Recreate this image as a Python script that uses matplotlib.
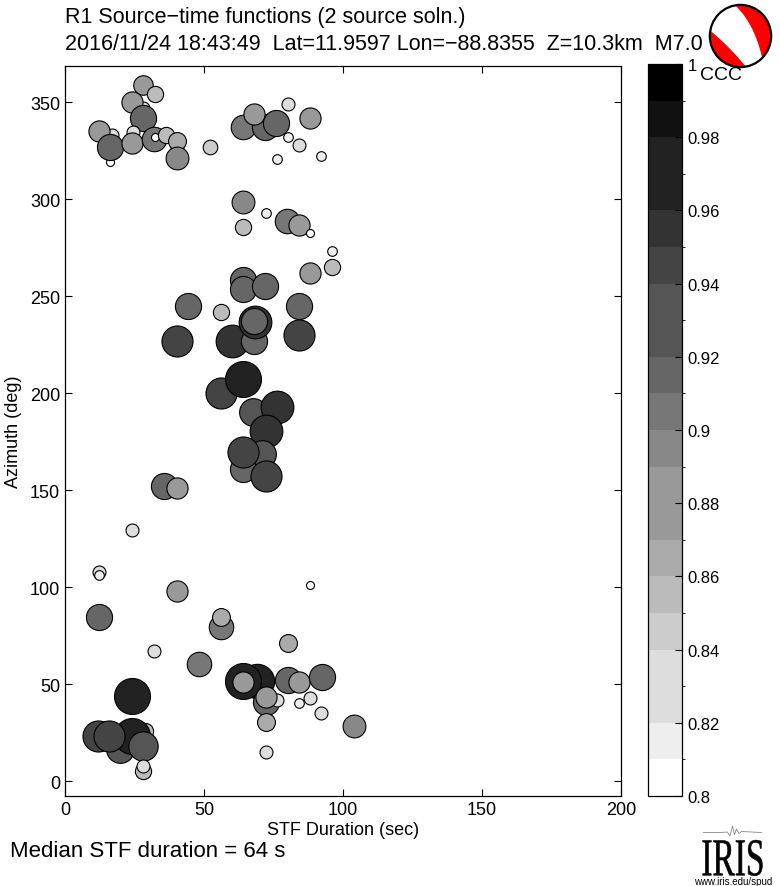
import numpy as np
import matplotlib
matplotlib.use('Agg')
import matplotlib.pyplot as plt
from matplotlib.colors import ListedColormap, BoundaryNorm
from matplotlib.cm import ScalarMappable
from matplotlib.textpath import TextPath
from matplotlib.patches import PathPatch, Ellipse, Polygon
from matplotlib.font_manager import FontProperties
import matplotlib.transforms as mtransforms

# ---------------- data ----------------
duration = [28, 32.4, 28, 24, 28, 17, 24.5, 12.2, 16.2, 16.2, 24, 32, 32.4, 36.3, 40.3, 40.3, 40.3, 52,
            80.2, 64, 72, 68, 76, 88, 80.2, 84, 76.3, 92,
            64, 72.3, 64, 80, 84, 88, 96, 96, 88, 64, 64, 72, 44.2, 56, 84, 60, 68, 68.4, 68, 40.3, 84,
            56, 64, 67.6, 76.3, 72.3, 71, 64, 64, 72.3, 35.6, 40.3,
            24, 12.2, 12.2, 88, 40.3, 12.2, 56, 56, 32, 80.2, 48.2,
            24, 28.8, 11.9, 19.8, 24, 15.8, 28, 28, 28,
            69, 64, 64, 72.3, 76.3, 72.3, 80.2, 84, 92.4, 84, 88, 92, 72.3, 104, 72.3]
azimuth = [359, 354, 347, 350, 342, 333, 334.5, 335, 319, 327, 329, 331, 332, 333, 326, 330, 321, 327,
           349, 337, 337, 344, 339, 342, 332, 328, 320.6, 322,
           298.5, 293, 285.6, 288.7, 286.6, 282.5, 273, 265, 262, 258.3, 253.6, 255, 245, 241.7, 245,
           227, 226.8, 236.6, 237, 226.8, 230,
           200, 207, 190, 192.8, 180.4, 168.6, 160.8, 169.6, 157, 152, 151,
           129.4, 107.7, 106, 101, 98, 84.5, 79.4, 84.5, 67, 71, 60.3,
           43.8, 25.8, 23, 16.5, 23, 23, 18, 5, 8,
           51.5, 51.5, 51, 40.7, 41.7, 43.3, 52, 51, 53.6, 40.2, 42.8, 35, 30.4, 28.4, 15]
ccc = [0.875, 0.855, 0.835, 0.885, 0.915, 0.835, 0.835, 0.885, 0.805, 0.915, 0.885, 0.905, 0.805, 0.855,
       0.835, 0.865, 0.895, 0.845,
       0.835, 0.905, 0.915, 0.885, 0.915, 0.885, 0.815, 0.835, 0.815, 0.815,
       0.895, 0.815, 0.855, 0.905, 0.885, 0.805, 0.815, 0.855, 0.885, 0.915, 0.915, 0.915, 0.915,
       0.855, 0.915, 0.955, 0.915, 0.955, 0.915, 0.945, 0.945,
       0.945, 0.975, 0.925, 0.955, 0.955, 0.925, 0.915, 0.945, 0.945, 0.915, 0.885,
       0.835, 0.835, 0.815, 0.805, 0.885, 0.915, 0.905, 0.865, 0.835, 0.865, 0.905,
       0.975, 0.855, 0.945, 0.925, 0.975, 0.945, 0.935, 0.855, 0.835,
       0.965, 0.975, 0.885, 0.915, 0.835, 0.885, 0.915, 0.885, 0.915, 0.815, 0.835, 0.835, 0.865,
       0.895, 0.835]

cbar_gray_hex = ['FF', 'EE', 'DD', 'DD', 'CC', 'BB', 'AA', '99', '99', '88',
                 '77', '66', '55', '55', '44', '33', '22', '22', '11', '00']
cbar_ticks = [0.8, 0.82, 0.84, 0.86, 0.88, 0.9, 0.92, 0.94, 0.96, 0.98, 1.0]
cbar_ticklabels = ['0.8', '0.82', '0.84', '0.86', '0.88', '0.9', '0.92', '0.94', '0.96', '0.98', '1']
x_ticks = [0, 50, 100, 150, 200]
y_ticks = [0, 50, 100, 150, 200, 250, 300, 350]

title1 = 'R1 Source\u2212time functions (2 source soln.)'
title2 = '2016/11/24 18:43:49  Lat=11.9597 Lon=\u221288.8355  Z=10.3km  M7.0'
median_text = 'Median STF duration = 64 s'

# ---------------- figure ----------------
W, H = 780, 887
fig = plt.figure(figsize=(W / 100, H / 100), dpi=100)
NARROW = ['Liberation Sans Narrow', 'Liberation Sans', 'DejaVu Sans']
REG = ['Liberation Sans', 'DejaVu Sans']

def fx(px):
    return px / W

def fy(py):
    return 1 - py / H

ax = fig.add_axes([fx(65), fy(797), fx(621) - fx(65), fy(67) - fy(797)])

cmap = ListedColormap(['#' + h * 3 for h in cbar_gray_hex])
bounds = np.linspace(0.8, 1.0, 21)
norm = BoundaryNorm(bounds, cmap.N)

c = np.array(ccc)
d_px = 8 + (c - 0.805) / 0.17 * 28
sizes = (d_px * 0.72) ** 2

for i in range(len(duration)):
    ax.scatter([duration[i]], [azimuth[i]], s=sizes[i], c=[ccc[i]], cmap=cmap, norm=norm,
               edgecolors='black', linewidths=0.8, zorder=2 + i * 0.01)

ax.set_xlim(0, 200)
ax.set_ylim(-7.7, 368.6)
ax.set_xticks(x_ticks)
ax.set_yticks(y_ticks)
ax.tick_params(direction='in', top=True, right=True, length=5, width=0.8, labelsize=13)
for lab in ax.get_xticklabels() + ax.get_yticklabels():
    lab.set_family(NARROW)
ax.set_xlabel('STF Duration (sec)', family=NARROW, fontsize=13, labelpad=2)
ax.set_ylabel('Azimuth (deg)', family=NARROW, fontsize=13, labelpad=6)
for sp in ax.spines.values():
    sp.set_linewidth(0.9)

# colorbar
cax = fig.add_axes([fx(648), fy(797), fx(682) - fx(648), fy(65) - fy(797)])
sm = ScalarMappable(norm=norm, cmap=cmap)
cb = fig.colorbar(sm, cax=cax, ticks=cbar_ticks, drawedges=False)
cb.set_ticklabels(cbar_ticklabels)
cax.tick_params(direction='in', length=5, width=0.8, labelsize=12, pad=4)
for lab in cax.get_yticklabels():
    lab.set_family(REG)
cb.outline.set_linewidth(0.9)
fig.text(fx(700), fy(75), 'CCC', family=REG, fontsize=14, va='center', ha='left')

# titles
fig.text(fx(65), fy(18), title1, family=NARROW, fontsize=15.5, va='center', ha='left')
fig.text(fx(65), fy(45), title2, family=NARROW, fontsize=15.5, va='center', ha='left')
fig.text(fx(10), fy(852), median_text, family=NARROW, fontsize=16, va='center', ha='left')

# beachball
bax = fig.add_axes([fx(708), fy(70), fx(773) - fx(708), fy(4) - fy(70)])
bax.set_xlim(-1.06, 1.06)
bax.set_ylim(-1.06, 1.06)
bax.axis('off')
bax.add_patch(Ellipse((0, 0), 2, 2, facecolor='#FF0000', edgecolor='none'))

def qbez(p0, p1, p2, n=30):
    t = np.linspace(0, 1, n)[:, None]
    return (1 - t) ** 2 * np.array(p0) + 2 * (1 - t) * t * np.array(p1) + t ** 2 * np.array(p2)

def arc(a0, a1, n=30):
    a = np.radians(np.linspace(a0, a1, n))
    return np.c_[np.cos(a), np.sin(a)]

p_top = arc(100, 100, 1)[0]
p_left = arc(170, 170, 1)[0]
p_bot = arc(-80, -80, 1)[0]
p_br = arc(-45, -45, 1)[0]
pts = np.vstack([arc(100, 170), qbez(p_left, (-0.35, -0.35), p_bot), arc(-80, -45),
                 qbez(p_br, (0.45, 0.4), p_top)])
bax.add_patch(Polygon(pts, closed=True, facecolor='white', edgecolor='none'))
bax.add_patch(Ellipse((0, 0), 2, 2, facecolor='none', edgecolor='black', linewidth=1.6))

# IRIS logo
lax = fig.add_axes([fx(700), fy(880), fx(765) - fx(700), fy(826) - fy(880)])
lax.set_xlim(0, 1)
lax.set_ylim(0, 1)
lax.axis('off')
tp = TextPath((0, 0), 'IRIS', size=1, prop=FontProperties(family=['Liberation Serif', 'DejaVu Serif']))
bb = tp.get_extents()
tr = mtransforms.Affine2D().translate(-bb.x0, -bb.y0).scale(0.92 / bb.width, 0.66 / bb.height).translate(0.04, 0.06)
lax.add_patch(PathPatch(tr.transform_path(tp), facecolor='black', edgecolor='black', linewidth=0.4))
wx = [0.05, 0.3, 0.42, 0.46, 0.5, 0.53, 0.56, 0.6, 0.64, 0.95]
wy = [0.86, 0.86, 0.87, 0.80, 0.98, 0.82, 0.93, 0.84, 0.88, 0.86]
lax.plot(wx, wy, color='#888888', lw=0.6)
fig.text(fx(733), fy(882), 'www.iris.edu/spud', family=NARROW, fontsize=7, ha='center', va='center')

fig.savefig('out.png', dpi=100)
